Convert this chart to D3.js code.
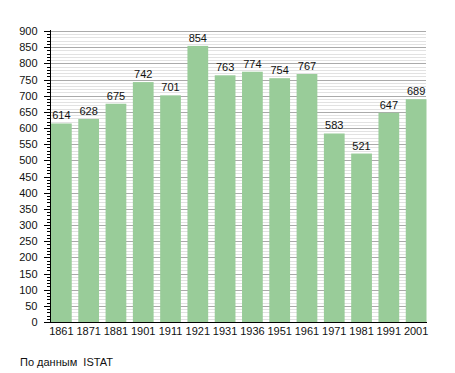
<!DOCTYPE html>
<html>
<head>
<meta charset="utf-8">
<script src="https://cdn.jsdelivr.net/npm/d3@7"></script>
<style>
  body { margin: 0; background: #fff; }
  text { font-family: "Liberation Sans", Arial, sans-serif; font-size: 11px; fill: #111; }
</style>
</head>
<body>
<div id="chart"></div>
<script>
// годы переписи и население
const years = ["1861","1871","1881","1901","1911","1921","1931","1936","1951","1961","1971","1981","1991","2001"];
const population = [614, 628, 675, 742, 701, 854, 763, 774, 754, 767, 583, 521, 647, 689];
const yTicks = [0,50,100,150,200,250,300,350,400,450,500,550,600,650,700,750,800,850,900];
const note = "По данным  ISTAT";

const width = 455, height = 373;
const plotLeft = 50, plotRight = 426, plotTop = 31, plotBottom = 322;

const svg = d3.select("#chart").append("svg")
  .attr("width", width)
  .attr("height", height);

const x = d3.scaleBand()
  .domain(years)
  .range([plotLeft + 1, plotRight + 0.5])
  .paddingInner(0.24)
  .paddingOuter(0);

const y = d3.scaleLinear()
  .domain([0, 900])
  .range([plotBottom, plotTop]);

// сетка: мелкие линии каждые 10, крупные каждые 50
const minor = d3.range(10, 901, 10).filter(v => v % 50 !== 0);
svg.append("g").selectAll("line")
  .data(minor)
  .join("line")
  .attr("x1", plotLeft).attr("x2", plotRight)
  .attr("y1", d => Math.round(y(d)) + 0.5)
  .attr("y2", d => Math.round(y(d)) + 0.5)
  .attr("stroke", "#e2e2e2");

svg.append("g").selectAll("line")
  .data(yTicks.filter(v => v > 0))
  .join("line")
  .attr("x1", plotLeft).attr("x2", plotRight)
  .attr("y1", d => Math.round(y(d)) + 0.5)
  .attr("y2", d => Math.round(y(d)) + 0.5)
  .attr("stroke", "#aaaaaa");

// столбцы
svg.append("g").selectAll("rect")
  .data(population)
  .join("rect")
  .attr("x", (d, i) => x(years[i]))
  .attr("y", d => y(d))
  .attr("width", x.bandwidth())
  .attr("height", d => plotBottom - y(d))
  .attr("fill", "#99cc99");

// подписи значений
svg.append("g").selectAll("text")
  .data(population)
  .join("text")
  .attr("x", (d, i) => x(years[i]) + x.bandwidth() / 2)
  .attr("y", d => y(d) - 4)
  .attr("text-anchor", "middle")
  .text(d => d);

// ось Y
const yAxis = svg.append("g");
yAxis.append("line")
  .attr("x1", plotLeft + 0.5).attr("x2", plotLeft + 0.5)
  .attr("y1", plotTop - 1).attr("y2", plotBottom)
  .attr("stroke", "#000");
yAxis.selectAll("line.minor")
  .data(minor)
  .join("line")
  .attr("class", "minor")
  .attr("x1", plotLeft - 3).attr("x2", plotLeft)
  .attr("y1", d => Math.round(y(d)) + 0.5)
  .attr("y2", d => Math.round(y(d)) + 0.5)
  .attr("stroke", "#000");
yAxis.selectAll("line.major")
  .data(yTicks)
  .join("line")
  .attr("class", "major")
  .attr("x1", plotLeft - 6).attr("x2", plotLeft)
  .attr("y1", d => Math.round(y(d)) + 0.5)
  .attr("y2", d => Math.round(y(d)) + 0.5)
  .attr("stroke", "#000");
yAxis.selectAll("text")
  .data(yTicks)
  .join("text")
  .attr("x", 37.5)
  .attr("y", d => y(d) + 4)
  .attr("text-anchor", "end")
  .text(d => d);

// ось X
svg.append("line")
  .attr("x1", plotLeft).attr("x2", plotRight + 1)
  .attr("y1", plotBottom + 0.5).attr("y2", plotBottom + 0.5)
  .attr("stroke", "#000");
svg.append("g").selectAll("text")
  .data(years)
  .join("text")
  .attr("x", d => x(d) + x.bandwidth() / 2)
  .attr("y", plotBottom + 13)
  .attr("text-anchor", "middle")
  .text(d => d);

svg.append("text")
  .attr("x", 20)
  .attr("y", 366)
  .style("white-space", "pre")
  .text(note);
</script>
</body>
</html>
